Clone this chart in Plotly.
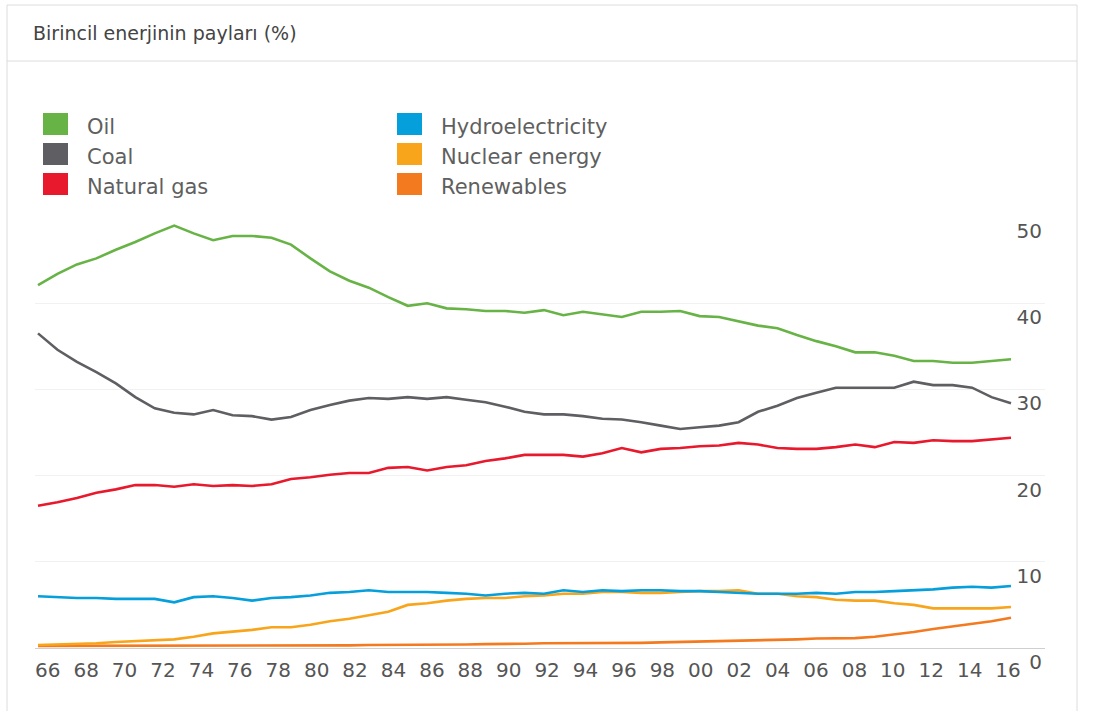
import plotly.graph_objects as go

years = list(range(1966, 2017))

oil = [42.1, 43.4, 44.5, 45.2, 46.2, 47.1, 48.1, 49.0, 48.1, 47.3,
       47.8, 47.8, 47.6, 46.8, 45.2, 43.7, 42.6, 41.8, 40.7, 39.7,
       40.0, 39.4, 39.3, 39.1, 39.1, 38.9, 39.2, 38.6, 39.0, 38.7,
       38.4, 39.0, 39.0, 39.1, 38.5, 38.4, 37.9, 37.4, 37.1, 36.3,
       35.6, 35.0, 34.3, 34.3, 33.9, 33.3, 33.3, 33.1, 33.1, 33.3,
       33.5]
coal = [36.5, 34.6, 33.2, 32.0, 30.7, 29.1, 27.8, 27.3, 27.1, 27.6,
        27.0, 26.9, 26.5, 26.8, 27.6, 28.2, 28.7, 29.0, 28.9, 29.1,
        28.9, 29.1, 28.8, 28.5, 28.0, 27.4, 27.1, 27.1, 26.9, 26.6,
        26.5, 26.2, 25.8, 25.4, 25.6, 25.8, 26.2, 27.4, 28.1, 29.0,
        29.6, 30.2, 30.2, 30.2, 30.2, 30.9, 30.5, 30.5, 30.2, 29.1,
        28.4]
gas = [16.5, 16.9, 17.4, 18.0, 18.4, 18.9, 18.9, 18.7, 19.0, 18.8,
       18.9, 18.8, 19.0, 19.6, 19.8, 20.1, 20.3, 20.3, 20.9, 21.0,
       20.6, 21.0, 21.2, 21.7, 22.0, 22.4, 22.4, 22.4, 22.2, 22.6,
       23.2, 22.7, 23.1, 23.2, 23.4, 23.5, 23.8, 23.6, 23.2, 23.1,
       23.1, 23.3, 23.6, 23.3, 23.9, 23.8, 24.1, 24.0, 24.0, 24.2,
       24.4]
hydro = [6.0, 5.9, 5.8, 5.8, 5.7, 5.7, 5.7, 5.3, 5.9, 6.0,
         5.8, 5.5, 5.8, 5.9, 6.1, 6.4, 6.5, 6.7, 6.5, 6.5,
         6.5, 6.4, 6.3, 6.1, 6.3, 6.4, 6.3, 6.7, 6.5, 6.7,
         6.6, 6.7, 6.7, 6.6, 6.6, 6.5, 6.4, 6.3, 6.3, 6.3,
         6.4, 6.3, 6.5, 6.5, 6.6, 6.7, 6.8, 7.0, 7.1, 7.0,
         7.2]
nuclear = [0.35, 0.4, 0.45, 0.55, 0.7, 0.8, 0.85, 1.0, 1.3, 1.7,
           1.9, 2.1, 2.4, 2.4, 2.7, 3.1, 3.4, 3.8, 4.2, 5.0,
           5.2, 5.5, 5.7, 5.8, 5.8, 6.0, 6.1, 6.3, 6.3, 6.5,
           6.5, 6.4, 6.4, 6.5, 6.6, 6.6, 6.7, 6.3, 6.3, 6.0,
           5.9, 5.6, 5.5, 5.5, 5.2, 5.0, 4.6, 4.6, 4.6, 4.6,
           4.75]
renew = [0.25, 0.25, 0.25, 0.25, 0.25, 0.25, 0.25, 0.25, 0.25, 0.25,
         0.25, 0.25, 0.25, 0.25, 0.25, 0.25, 0.3, 0.35, 0.35, 0.35,
         0.4, 0.4, 0.4, 0.45, 0.45, 0.5, 0.55, 0.55, 0.55, 0.6,
         0.6, 0.6, 0.65, 0.7, 0.7, 0.75, 0.8, 0.85, 0.95, 1.0,
         1.1, 1.15, 1.15, 1.3, 1.55, 1.85, 2.2, 2.5, 2.8, 3.1,
         3.5]

series_names = ["Oil", "Coal", "Natural gas", "Hydroelectricity", "Nuclear energy", "Renewables"]
series_vals = [oil, coal, gas, hydro, nuclear, renew]
colors = ["#67b346", "#5e5e63", "#e8192c", "#059fdc", "#f8a51b", "#f47a20"]

tick_years = list(range(1966, 2017, 2))
tick_text = [f"{y % 100:02d}" for y in tick_years]
y_ticks = [0, 10, 20, 30, 40, 50]

title_text = "Birincil enerjinin payları (%)"

W, H = 1117, 711
L, R = 35, 1045
T, B = 217, 648
FONT = "'DejaVu Sans', Roboto, sans-serif"

def px(xp):
    return (xp - L) / (R - L)

def py(yp):
    return (B - yp) / (B - T)

fig = go.Figure()
order = [5, 4, 3, 2, 1, 0]
for i in order:
    fig.add_trace(go.Scatter(
        x=years, y=series_vals[i], mode="lines", name=series_names[i],
        line=dict(color=colors[i], width=2.6), showlegend=False,
        hoverinfo="x+y+name"))

shapes = []
annotations = []
# card border and header separator
shapes.append(dict(type="rect", xref="paper", yref="paper",
                   x0=px(7), x1=px(1077), y0=py(740), y1=py(5),
                   line=dict(color="#dcdcdc", width=1), fillcolor="rgba(0,0,0,0)", layer="below"))
shapes.append(dict(type="line", xref="paper", yref="paper",
                   x0=px(7), x1=px(1077), y0=py(61), y1=py(61),
                   line=dict(color="#dcdcdc", width=1)))
annotations.append(dict(text=title_text, xref="paper", yref="paper",
                        x=px(31), y=py(33), xanchor="left", yanchor="middle",
                        showarrow=False, font=dict(family=FONT, size=19, color="#444444")))

# manual legend: two columns, three rows
col_x = [43, 397]
row_y = [124, 154, 184]
for k, name in enumerate(series_names):
    c = k // 3
    r = k % 3
    x0 = col_x[c]
    yc = row_y[r]
    shapes.append(dict(type="rect", xref="paper", yref="paper",
                       x0=px(x0), x1=px(x0 + 25), y0=py(yc + 11), y1=py(yc - 11),
                       line=dict(width=0), fillcolor=colors[k]))
    annotations.append(dict(text=name, xref="paper", yref="paper",
                            x=px(x0 + 42), y=py(yc + 3), xanchor="left", yanchor="middle",
                            showarrow=False, font=dict(family=FONT, size=21, color="#5f5f5f")))

pxyr = (1011 - 38) / 50.0
x_left = 1966 - 3 / pxyr
x_right = 1966 + (R - 38) / pxyr
tick_pos = [y + 0.5 - 0.65 * (y - 1966) / 50.0 for y in tick_years]

fig.update_layout(
    width=W, height=H,
    margin=dict(l=L, r=W - R, t=T, b=H - B),
    paper_bgcolor="white", plot_bgcolor="white",
    shapes=shapes, annotations=annotations,
    showlegend=False,
    font=dict(family=FONT, color="#555555"),
    xaxis=dict(range=[x_left, x_right], tickvals=tick_pos, ticktext=tick_text,
               showgrid=False, zeroline=False, showline=True, linecolor="#cfcfcf", linewidth=1,
               ticks="outside", ticklen=4, tickcolor="rgba(0,0,0,0)",
               tickfont=dict(family=FONT, size=20, color="#555555")),
    yaxis=dict(range=[0, 50], side="right", tickvals=y_ticks,
               showgrid=True, gridcolor="#f1f1f1", gridwidth=1, zeroline=False,
               ticklabelposition="inside bottom", ticklabeloverflow="allow",
               tickfont=dict(family=FONT, size=20, color="#555555")),
)

fig.write_html("out.html")
